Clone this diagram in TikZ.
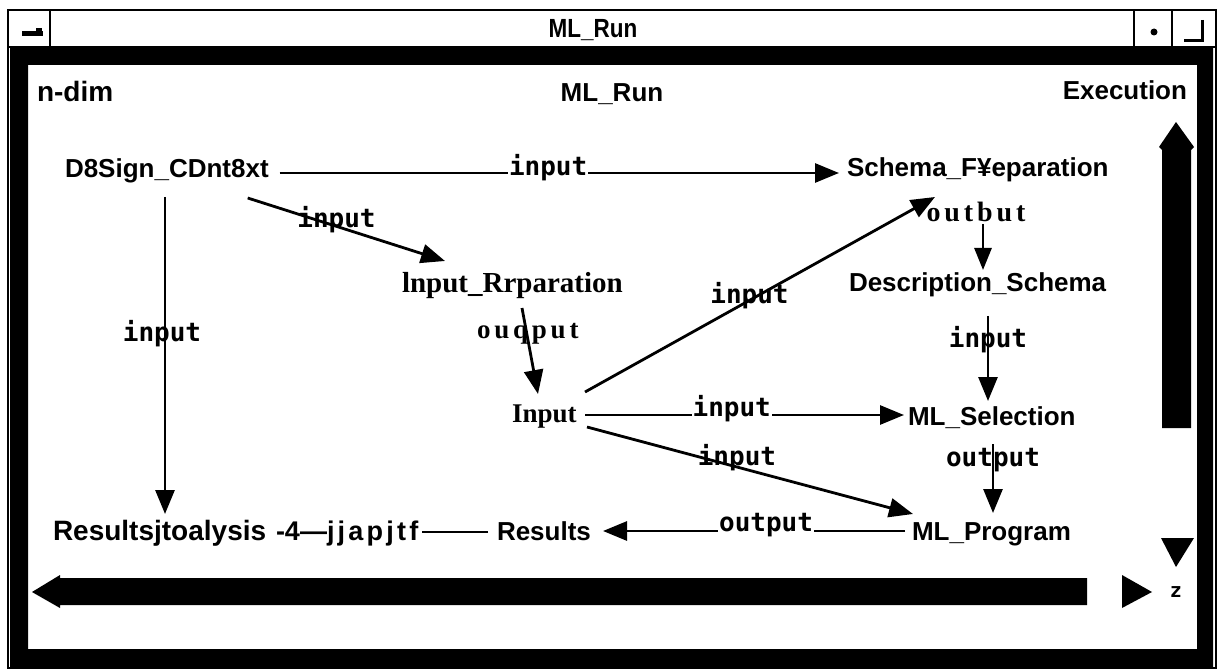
\documentclass[tikz,border=0pt]{standalone}
\usepackage{fontspec}
\setmainfont{Liberation Sans}
\newfontfamily\serifb{Liberation Serif}
\newfontfamily\serifsp{Liberation Serif}[LetterSpace=14]
\newfontfamily\sanssp{Liberation Sans}[LetterSpace=12]
\newfontfamily\monob{DejaVu Sans Mono}
\usetikzlibrary{arrows.meta}
\tikzset{
  nd/.style={inner sep=0pt, outer sep=0pt, anchor=base west, font=\fontsize{26}{26}\selectfont\bfseries},
  snd/.style={nd, font=\fontsize{29}{29}\selectfont\serifb\bfseries},
  lbl/.style={inner sep=0pt, font=\fontsize{26}{26}\selectfont\monob\bfseries},
  hlbl/.style={lbl, fill=white, inner sep=1pt},
  slbl/.style={inner sep=0pt, font=\fontsize{27}{27}\selectfont\serifsp\bfseries},
  conn/.style={line width=2.8pt, -{Triangle[length=24pt,width=19pt]}},
  plainline/.style={line width=2.8pt},
  barfill/.style={fill=black},
}
\begin{document}
\begin{tikzpicture}[x=1pt,y=-1pt]
\useasboundingbox (0,0) rectangle (1219,671);
% window frame
\fill[black, even odd rule] (10,47) rectangle (1213,667) (28,65) rectangle (1197,649);
\draw[line width=2pt] (8,10) rectangle (1216,668);
\draw[line width=2pt] (8,47) -- (1216,47);
\draw[line width=2pt] (50,10) -- (50,47) (1134,10) -- (1134,47) (1172,10) -- (1172,47);
\fill (22,31) rectangle (43,36);
\fill (36,28) rectangle (42,31);
\fill (1154,32) circle (3.5);
\draw[line width=3pt] (1202,20) -- (1202,41) -- (1184,41);
\node[inner sep=0pt, font=\fontsize{25}{25}\selectfont\bfseries] (title) at (593,30) {\scalebox{0.9}[1.05]{ML\_Run}};

% headers
\node[nd, font=\fontsize{28}{28}\selectfont\bfseries] (hdim) at (37,102) {n-dim};
\node[nd, anchor=base] (hrun) at (612,102) {ML\_Run};
\node[nd, anchor=base east] (hexec) at (1187,100) {Execution};

% scrollbars
\fill[barfill] (1176,122) -- (1194,147) -- (1191,150) -- (1191,428) -- (1162,428) -- (1162,150) -- (1159,147) -- cycle;
\fill[barfill] (1161,538) -- (1194,538) -- (1176,567) -- cycle;
\fill[barfill] (32,592) -- (60,575) -- (60,578) -- (1087,578) -- (1087,605) -- (60,605) -- (60,608) -- cycle;
\fill[barfill] (1122,575) -- (1122,608) -- (1152,592) -- cycle;
\node[inner sep=0pt, font=\fontsize{20}{20}\selectfont\monob\bfseries] (zlab) at (1176,592) {z};

% nodes
\node[nd] (d8) at (65,178) {D8Sign\_CDnt8xt};
\node[nd] (sf) at (847,177) {Schema\_F¥eparation};
\node[snd] (ir) at (402,293) {lnput\_Rrparation};
\node[nd] (ds) at (849,292) {Description\_Schema};
\node[snd, font=\fontsize{27}{27}\selectfont\serifb\bfseries] (inp) at (512,422) {Input};
\node[nd] (mls) at (908,425) {ML\_Selection};
\node[nd] (mlp) at (912,540) {ML\_Program};
\node[nd] (res) at (497,540) {Results};
\node[nd, font=\fontsize{28}{28}\selectfont\bfseries] (ra) at (53,540) {Resultsjtoalysis};
\node[nd, font=\fontsize{27}{27}\selectfont\bfseries] (ral) at (276,540) {-4—{\sanssp\bfseries jjapjtf}};

% connectors
\draw[conn] ([shift={(11,-5)}]d8.base east) -- node[hlbl, pos=0.48, yshift=5pt] {input} ([shift={(-8,-4)}]sf.base west);
\draw[conn] ([shift={(-21,20)}]d8.base east) -- node[lbl, pos=0.45, yshift=7pt] {input} ([shift={(43,-32)}]ir.base west);
\draw[conn] ([shift={(100,19)}]d8.base west) -- node[lbl, pos=0.43, xshift=-3pt] {input} ([shift={(112,-26)}]ra.base west);
\draw[conn] ([shift={(120,15)}]ir.base west) -- node[slbl, pos=0.3, xshift=1pt] {ouqput} ([shift={(26,-28)}]inp.base west);
\draw[conn] ([shift={(73,-30)}]inp.base west) -- node[lbl, pos=0.47, yshift=5pt] {input} ([shift={(88,20)}]sf.base west);
\draw[conn] ([shift={(73,-7)}]inp.base west) -- node[hlbl, pos=0.46, yshift=6pt] {input} ([shift={(-4,-10)}]mls.base west);
\draw[conn] ([shift={(75,5)}]inp.base west) -- node[lbl, pos=0.46, yshift=9pt] {input} ([shift={(1,-26)}]mlp.base west);
\draw[line width=2.8pt, -{Triangle[length=22pt,width=17pt]}] ([shift={(136,47)}]sf.base west) -- node[slbl, at start, anchor=base, xshift=-7pt, yshift=2pt, font=\fontsize{28}{28}\selectfont\serifsp\bfseries] {outbut} ([shift={(134,-22)}]ds.base west);
\draw[conn] ([shift={(139,24)}]ds.base west) -- node[lbl, pos=0.28] {input} ([shift={(80,-24)}]mls.base west);
\draw[conn] ([shift={(85,19)}]mls.base west) -- node[lbl, pos=0.23] {output} ([shift={(81,-27)}]mlp.base west);
\draw[conn] ([shift={(-7,-9)}]mlp.base west) -- node[hlbl, pos=0.46, yshift=6pt] {output} ([shift={(106,-9)}]res.base west);
\draw[plainline] ([shift={(-9,-8)}]res.base west) -- ([shift={(4,-8)}]ral.base east);
\end{tikzpicture}
\end{document}
